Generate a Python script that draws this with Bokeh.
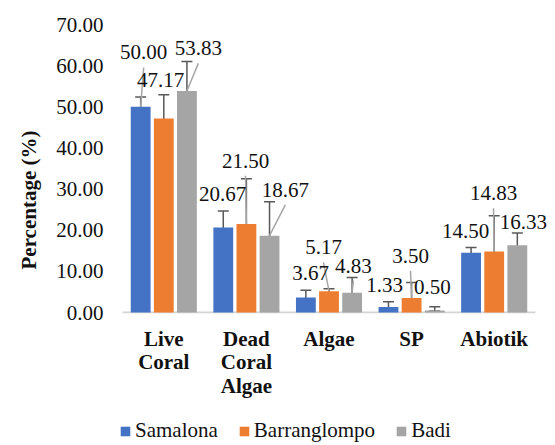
from bokeh.plotting import figure
from bokeh.layouts import column
from bokeh.models import (Range1d, FixedTicker, NumeralTickFormatter, Whisker, TeeHead,
                          ColumnDataSource, Legend, LegendItem, Title)
from bokeh.embed import file_html
from bokeh.resources import INLINE
from bokeh.core.properties import value

# ---------------- data ----------------
categories = ["Live\nCoral", "Dead\nCoral\nAlgae", "Algae", "SP", "Abiotik"]
series_names = ["Samalona", "Barranglompo", "Badi"]
samalona = [50.00, 20.67, 3.67, 1.33, 14.50]
barranglompo = [47.17, 21.50, 5.17, 3.50, 14.83]
badi = [53.83, 18.67, 4.83, 0.50, 16.33]
# error-bar ends (lower / upper)
samalona_lo = [49.3, 19.7, 2.7, 0.6, 13.6]
samalona_hi = [52.4, 24.7, 5.4, 2.6, 15.8]
barranglompo_lo = [46.4, 20.7, 4.3, 2.7, 14.0]
barranglompo_hi = [52.9, 32.5, 5.8, 7.3, 23.5]
badi_lo = [53.3, 17.7, 3.9, 0.35, 15.4]
badi_hi = [61.0, 26.9, 8.5, 1.4, 19.3]
y_ticks = [0, 10, 20, 30, 40, 50, 60, 70]

# ---------------- layout / style (not data) ----------------
colors = ["#4472C4", "#ED7D31", "#A5A5A5"]
offsets = [-0.28, 0.0, 0.28]
BAR_W = 0.24
PX_X = 82.6          # px per category
PX_Y = 288 / 70.0    # px per percent
# manually placed data labels (height in axis units, x shift in px)
label_y = [[63.2, 28.9, 9.5, 6.8, 19.9],
           [56.4, 36.9, 15.8, 13.8, 29.0],
           [64.2, 29.8, 11.4, 6.2, 21.9]]
label_dx = [[3, -0.6, 4.8, -3.8, -5.4],
            [-3.3, -0.9, -5.5, -1.1, -0.7],
            [11.4, 15.8, 1.2, -2.4, 6.0]]
show_leader = [[1, 0, 0, 0, 0],
               [0, 1, 1, 1, 1],
               [1, 1, 1, 0, 0]]
FONT = "'Liberation Serif', 'Times New Roman', serif"
FS = "21px"
TXT = "#111111"
LEFT = 119

p = figure(width=555, height=419,
           x_range=Range1d(-0.5 - (122 - LEFT) / PX_X, 4.5 + 15 / PX_X),
           y_range=Range1d(-1.0 / PX_Y, 70),
           output_backend="svg", toolbar_location=None,
           min_border_left=LEFT, min_border_right=5, min_border_top=24, min_border_bottom=106)
p.outline_line_color = None
p.xgrid.visible = False
p.ygrid.visible = False
p.background_fill_color = "white"
p.border_fill_color = "white"

values = [samalona, barranglompo, badi]
los = [samalona_lo, barranglompo_lo, badi_lo]
his = [samalona_hi, barranglompo_hi, badi_hi]

# category axis line (drawn inside frame so labels may overhang)
p.segment(x0=[-0.5], y0=[0], x1=[4.5], y1=[0], line_color="#D4D4D4", line_width=2)

for s in range(3):
    xs = [i + offsets[s] for i in range(len(categories))]
    src = ColumnDataSource(dict(x=xs, top=values[s]))
    p.vbar(x="x", top="top", width=BAR_W, bottom=0, source=src,
           fill_color=colors[s], line_color=None)

# leader lines
for s in range(3):
    x0, y0, x1, y1 = [], [], [], []
    for i in range(len(categories)):
        if show_leader[s][i]:
            bx = i + offsets[s]
            x0.append(bx + label_dx[s][i] / PX_X)
            y0.append(label_y[s][i] - 15 / PX_Y)
            x1.append(bx)
            y1.append(values[s][i])
    p.segment(x0=x0, y0=y0, x1=x1, y1=y1, line_color="#A6A6A6", line_width=1.5)

# error bars
for s in range(3):
    xs = [i + offsets[s] for i in range(len(categories))]
    src = ColumnDataSource(dict(x=xs, lo=los[s], hi=his[s]))
    w = Whisker(source=src, base="x", lower="lo", upper="hi",
                line_color="#595959", line_width=1.5,
                upper_head=TeeHead(size=11, line_color="#595959", line_width=1.5),
                lower_head=TeeHead(size=11, line_color="#595959", line_width=1.5))
    p.add_layout(w)

# data labels
for s in range(3):
    xs = [i + offsets[s] for i in range(len(categories))]
    src = ColumnDataSource(dict(x=xs, y=label_y[s], dx=label_dx[s],
                                t=["%.2f" % v for v in values[s]]))
    p.text(x="x", y="y", text="t", x_offset="dx", source=src,
           text_font=value(FONT), text_font_size=value(FS), text_color=TXT,
           text_align="center", text_baseline="middle")

# axes
p.yaxis.ticker = FixedTicker(ticks=y_ticks)
p.yaxis.formatter = NumeralTickFormatter(format="0.00")
p.yaxis.axis_line_color = None
p.yaxis.major_tick_line_color = None
p.yaxis.minor_tick_line_color = None
p.yaxis.major_label_text_font = FONT
p.yaxis.major_label_text_font_size = FS
p.yaxis.major_label_text_color = TXT
p.yaxis.major_label_standoff = 10

p.xaxis.ticker = FixedTicker(ticks=list(range(len(categories))))
p.xaxis.major_label_overrides = {i: c for i, c in enumerate(categories)}
p.xaxis.axis_line_color = None
p.xaxis.major_tick_line_color = None
p.xaxis.minor_tick_line_color = None
p.xaxis.major_label_text_font = FONT
p.xaxis.major_label_text_font_size = FS
p.xaxis.major_label_text_font_style = "bold"
p.xaxis.major_label_text_color = TXT
p.xaxis.major_label_text_line_height = 0.99
p.xaxis.major_label_standoff = 7

# y axis title
p.add_layout(Title(text="Percentage (%)", align="left", offset=44, standoff=26,
                   text_font=FONT, text_font_size=FS, text_font_style="bold",
                   text_color=TXT), "left")

# legend strip below the chart
lg = figure(width=555, height=26, x_axis_type=None, y_axis_type=None,
            x_range=Range1d(0, 1), y_range=Range1d(0, 1),
            output_backend="svg", toolbar_location=None, min_border=0)
lg.outline_line_color = None
lg.xgrid.visible = False
lg.ygrid.visible = False
dummies = [lg.vbar(x=[-100], top=[0], width=0.1, fill_color=colors[s], line_color=None)
           for s in range(3)]
legend = Legend(items=[LegendItem(label=series_names[s], renderers=[dummies[s]]) for s in range(3)],
                orientation="horizontal", location=(0, 2),
                glyph_width=12, glyph_height=12, label_standoff=4, spacing=20,
                padding=0, margin=0, border_line_color=None, background_fill_alpha=0,
                label_text_font=FONT, label_text_font_size=FS, label_height=21,
                label_text_color=TXT)
lg.add_layout(legend, "center")

layout = column(p, lg, spacing=0)
open("out.html", "w").write(file_html(layout, INLINE))
